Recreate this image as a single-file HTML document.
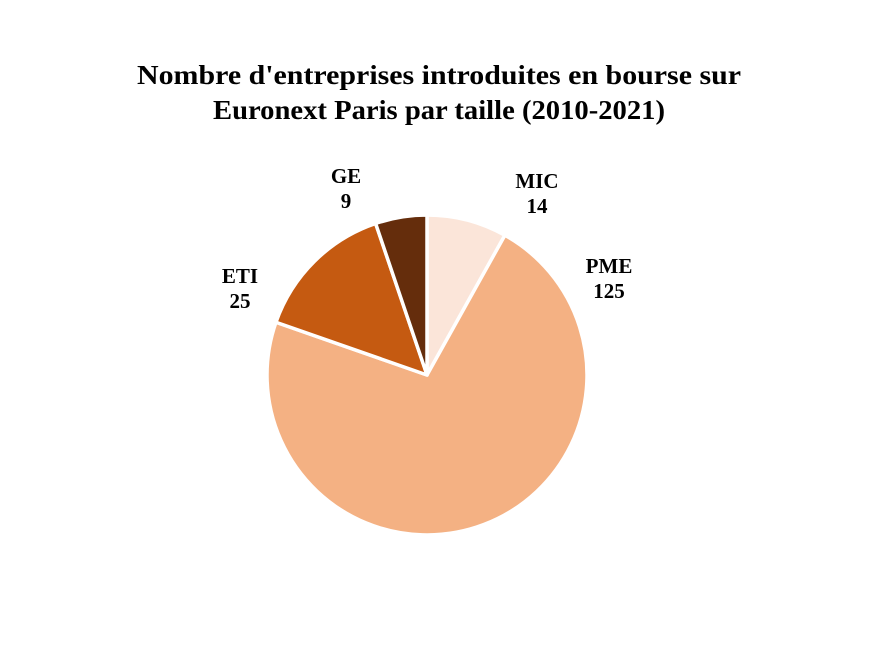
<!DOCTYPE html>
<html><head><meta charset="utf-8"><style>
body{margin:0;background:#fff;}
svg{display:block;font-family:"Liberation Serif",serif;}
</style></head><body>
<svg width="891" height="645">
<text x="439" y="84" text-anchor="middle" font-size="27" font-weight="bold" textLength="604" lengthAdjust="spacingAndGlyphs">Nombre d'entreprises introduites en bourse sur</text>
<text x="439" y="119" text-anchor="middle" font-size="27" font-weight="bold" textLength="452" lengthAdjust="spacingAndGlyphs">Euronext Paris par taille (2010-2021)</text>
<g id="slices"></g>
<g id="labels" font-size="21" font-weight="bold" text-anchor="middle"></g>
</svg>
<script>
const categories=["MIC","PME","ETI","GE"];
const values=[14,125,25,9];
const colors=["#FBE5D9","#F4B183","#C55A11","#652D0C"];
const labelPos=[[537,188],[609,273],[240,283],[346,183]];
const cx=427,cy=375,r=160;
const total=values.reduce((a,b)=>a+b,0);
const ns="http://www.w3.org/2000/svg";
const g=document.getElementById("slices"),lg=document.getElementById("labels");
let a0=0;
values.forEach((v,i)=>{
  const a1=a0+v/total*2*Math.PI;
  const p=(a)=>[cx+r*Math.sin(a),cy-r*Math.cos(a)];
  const [x0,y0]=p(a0),[x1,y1]=p(a1);
  const path=document.createElementNS(ns,"path");
  path.setAttribute("d",`M${cx},${cy}L${x0},${y0}A${r},${r} 0 ${a1-a0>Math.PI?1:0} 1 ${x1},${y1}Z`);
  path.setAttribute("fill",colors[i]);
  path.setAttribute("stroke","#fff");
  path.setAttribute("stroke-width","3.5");
  path.setAttribute("stroke-linejoin","round");
  
  
  g.appendChild(path);
  const t=document.createElementNS(ns,"text");
  t.setAttribute("x",labelPos[i][0]);t.setAttribute("y",labelPos[i][1]);
  
  
  const s1=document.createElementNS(ns,"tspan");s1.setAttribute("x",labelPos[i][0]);s1.textContent=categories[i];
  const s2=document.createElementNS(ns,"tspan");s2.setAttribute("x",labelPos[i][0]);s2.setAttribute("dy","25");s2.textContent=values[i];
  t.appendChild(s1);t.appendChild(s2);lg.appendChild(t);
  a0=a1;
});
</script>
</body></html>
